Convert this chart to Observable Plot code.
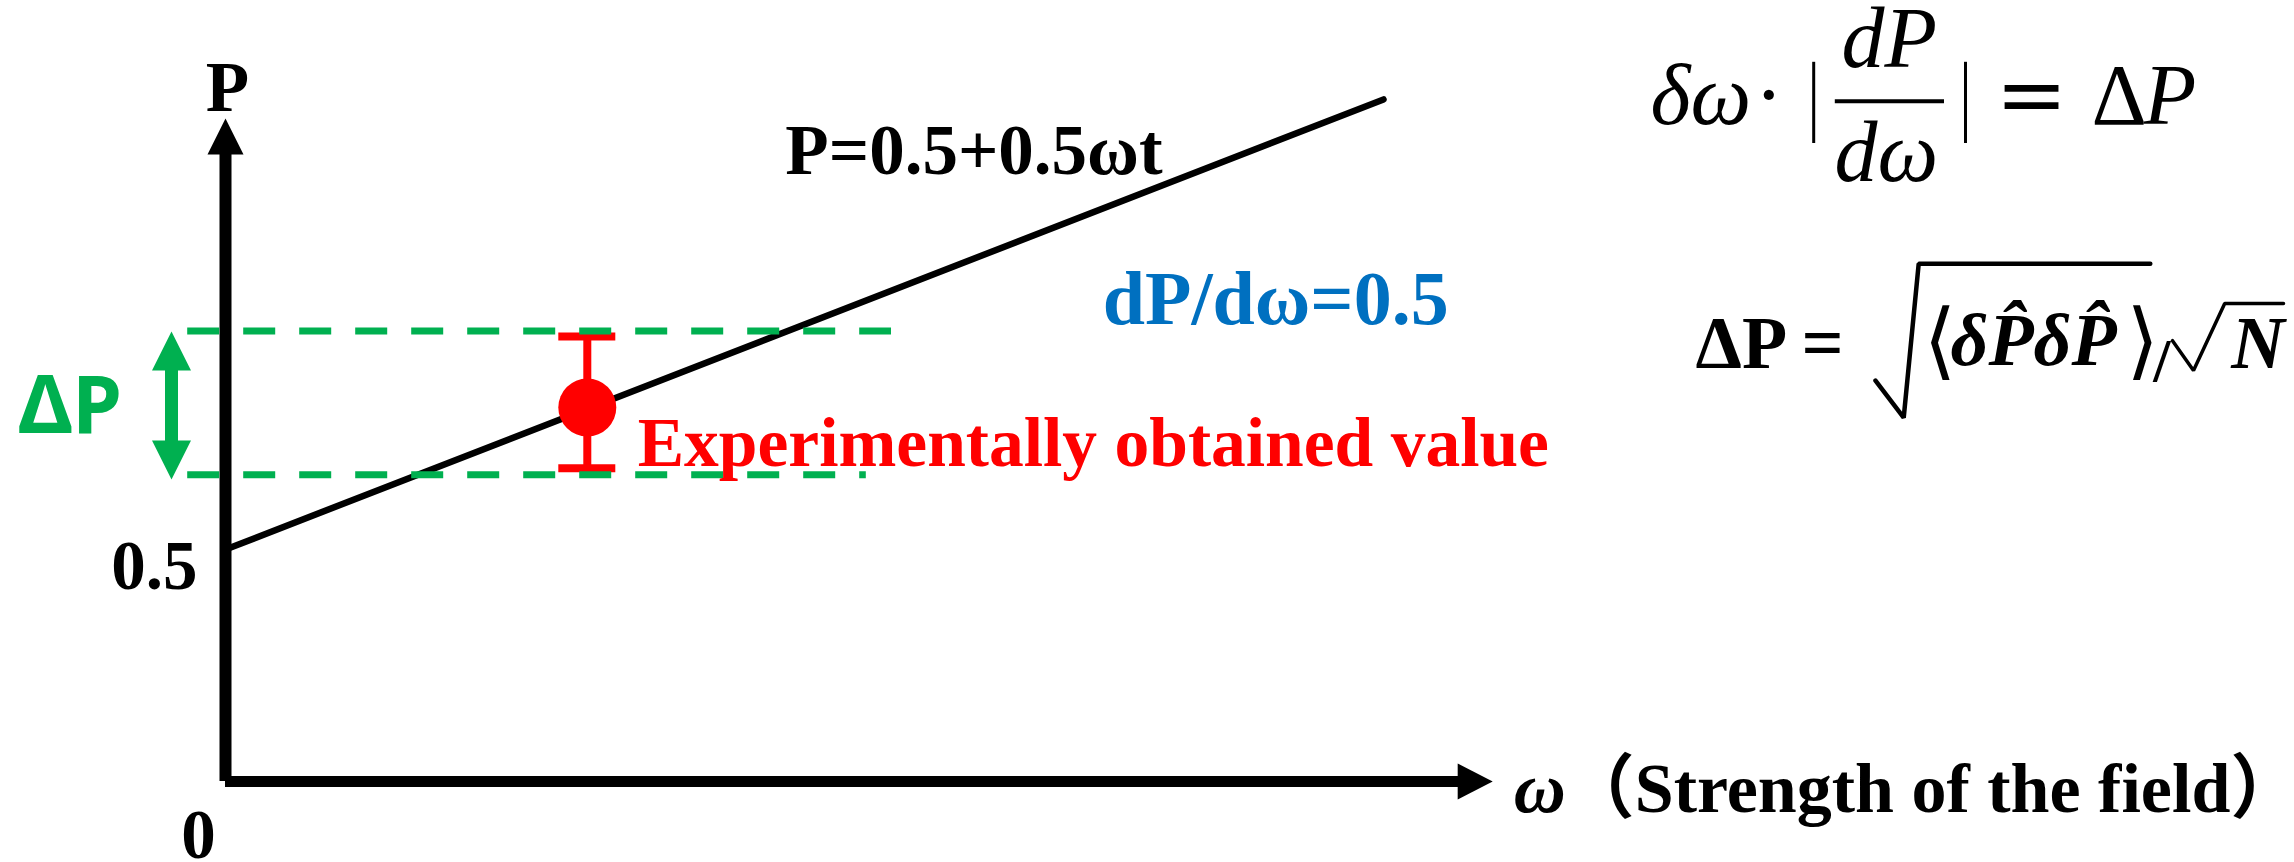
<!DOCTYPE html>
<html>
<head>
<meta charset="utf-8">
<script src="https://cdn.jsdelivr.net/npm/d3@7"></script>
<script src="https://cdn.jsdelivr.net/npm/@observablehq/plot@0.6"></script>
<style>
  html, body { margin: 0; padding: 0; background: #ffffff; }
  #chart svg { display: block; }
</style>
</head>
<body>
<div id="chart"></div>
<script>
// ---------------- data (ω, P units) ----------------
// model line P = 0.5 + 0.5ωt
const lineOmega = [0, 1.93];
const lineP = [0.5, 1.47];
// experimentally obtained value with its error bar
const obsOmega = [0.603];
const obsP = [0.806];
const obsLow = [0.675];
const obsHigh = [0.959];
// ΔP band (green dashed lines)
const bandP = [0.971, 0.661];
const bandFrom = [-0.063, -0.063];
const bandTo = [1.11, 1.068];
// ΔP double arrow
const deltaArrowOmega = [-0.09];
const deltaArrowP = [0.651, 0.970];
// axes
const axisTipOmega = [2.112];
const axisTipP = [1.429];
const yTickValues = [0.5];
const yTickLabels = ["0.5"];
const originLabel = ["0"];
const yAxisTitle = ["P"];
const xAxisSymbol = ["ω"];
const xAxisTitle = ["（Strength of the field）"];
// annotations
const noteText = ["P=0.5+0.5ωt", "dP/dω=0.5", "Experimentally obtained value", "ΔP"];
const noteOmega = [0.933, 1.462, 0.687, -0.345];
const noteP = [1.310, 0.987, 0.679, 0.752];
// formula 1 : δω · |dP/dω| = ΔP
const f1Text = ["δω", "·", "dP", "dω", "=", "Δ", "P"];
const f1Omega = [2.375, 2.572, 2.773, 2.768, 3.01, 3.11, 3.197];
const f1P = [1.418, 1.418, 1.539, 1.295, 1.418, 1.418, 1.418];
const f1BarOmega = [2.647, 2.9];
const f1BarP = [1.375, 1.55];
const f1FracOmega = [2.683, 2.865];
const f1FracP = [1.466];
// formula 2 : ΔP = sqrt(<δP̂δP̂>)/sqrt(N)
const f2Text = ["ΔP =", "⟨", "δP̂δP̂", "⟩", "/", "N"];
const f2Omega = [2.45, 2.83, 2.875, 3.168, 3.213, 3.343];
const f2P = [0.892, 0.890, 0.897, 0.890, 0.864, 0.892];
const sqrtBigOmega = [2.75, 2.797, 2.822, 3.208];
const sqrtBigP = [0.864, 0.784, 1.116, 1.116];
const sqrtSmallOmega = [3.245, 3.28, 3.332, 3.43];
const sqrtSmallP = [0.950, 0.886, 1.030, 1.030];

// ---------------- styles ----------------
const ink = "#000000", green = "#00B050", red = "#FF0000", blue = "#0070C0";
const serif = "'Liberation Serif', 'Times New Roman', 'DejaVu Serif', 'Noto Sans CJK JP', serif";
const sans = "'Noto Sans', 'Open Sans', 'DejaVu Sans', sans-serif";
const mathSans = "'DejaVu Sans', 'Noto Sans', sans-serif";

const pts = (xs, ys) => xs.map((x, i) => ({x, y: ys[i]}));
function head(dir, len, wid) {
  const w = wid / 2, h = len;
  return {draw(ctx) {
    ctx.moveTo(0, 0);
    if (dir === "up") { ctx.lineTo(-w, h); ctx.lineTo(w, h); }
    else if (dir === "down") { ctx.lineTo(-w, -h); ctx.lineTo(w, -h); }
    else { ctx.lineTo(-h, -w); ctx.lineTo(-h, w); }
    ctx.closePath();
  }};
}
const label = (t, x, y, o) => Plot.text([{t, x, y}], {x: "x", y: "y", text: "t", lineAnchor: "bottom", ...o});

const chart = Plot.plot({
  width: 2294,
  height: 862,
  margin: 0,
  x: {domain: [0, 1], range: [225, 825], axis: null},
  y: {domain: [0, 1], range: [781, 317], axis: null},
  style: {background: "#ffffff"},
  marks: [
    // axes
    Plot.ruleX([0], {x: d => d, y1: () => 0, y2: () => axisTipP[0] - 0.07, stroke: ink, strokeWidth: 12}),
    Plot.ruleY([0], {y: d => d, x1: () => 0, x2: () => axisTipOmega[0] - 0.05, stroke: ink, strokeWidth: 11}),
    Plot.dot(pts([0], axisTipP), {x: "x", y: "y", r: 10, symbol: head("up", 36, 36), fill: ink, stroke: "none"}),
    Plot.dot(pts(axisTipOmega, [0]), {x: "x", y: "y", r: 10, symbol: head("right", 35, 36), fill: ink, stroke: "none"}),
    // model line
    Plot.line(pts(lineOmega, lineP), {x: "x", y: "y", stroke: ink, strokeWidth: 6.5}),
    // error bar + point
    Plot.ruleX(obsOmega.map((w, i) => ({w, lo: obsLow[i], hi: obsHigh[i]})), {x: "w", y1: "lo", y2: "hi", stroke: red, strokeWidth: 8}),
    Plot.ruleY(obsOmega.flatMap((w, i) => [{w, p: obsLow[i]}, {w, p: obsHigh[i]}]), {y: "p", x1: d => d.w - 0.0475, x2: d => d.w + 0.0475, stroke: red, strokeWidth: 8}),
    Plot.dot(pts(obsOmega, obsP), {x: "x", y: "y", r: 29, fill: red, stroke: "none"}),
    // ΔP band
    Plot.ruleY(bandP.map((p, i) => ({p, a: bandFrom[i], b: bandTo[i]})), {y: "p", x1: "a", x2: "b", stroke: green, strokeWidth: 7, strokeDasharray: "32,24"}),
    // ΔP double arrow
    Plot.ruleX(deltaArrowOmega, {x: d => d, y1: () => deltaArrowP[0] + 0.08, y2: () => deltaArrowP[1] - 0.08, stroke: green, strokeWidth: 13}),
    Plot.dot(pts(deltaArrowOmega, [deltaArrowP[1]]), {x: "x", y: "y", r: 10, symbol: head("up", 39, 39), fill: green, stroke: "none"}),
    Plot.dot(pts(deltaArrowOmega, [deltaArrowP[0]]), {x: "x", y: "y", r: 10, symbol: head("down", 39, 39), fill: green, stroke: "none"}),
    // axis labels
    label(yAxisTitle[0], 0, axisTipP[0], {dx: 2, dy: -7, textAnchor: "middle", fontFamily: serif, fontWeight: "bold", fontSize: 71, fill: ink}),
    label(yTickLabels[0], 0, yTickValues[0], {dx: -28, dy: 39, textAnchor: "end", fontFamily: serif, fontWeight: "bold", fontSize: 69, fill: ink}),
    label(originLabel[0], 0, 0, {dx: -27, dy: 76, textAnchor: "middle", fontFamily: serif, fontWeight: "bold", fontSize: 69, fill: ink}),
    label(xAxisSymbol[0], axisTipOmega[0], 0, {dx: 21, dy: 30, textAnchor: "start", fontFamily: serif, fontStyle: "italic", fontWeight: "bold", fontSize: 72, fill: ink}),
    label(xAxisTitle[0], axisTipOmega[0], 0, {dx: 72, dy: 30, textAnchor: "start", fontFamily: serif, fontWeight: "bold", fontSize: 70, fill: ink}),
    // annotations
    label(noteText[0], noteOmega[0], noteP[0], {textAnchor: "start", fontFamily: serif, fontWeight: "bold", fontSize: 71, fill: ink}),
    label(noteText[1], noteOmega[1], noteP[1], {textAnchor: "start", fontFamily: serif, fontWeight: "bold", fontSize: 76, fill: blue}),
    label(noteText[2], noteOmega[2], noteP[2], {textAnchor: "start", fontFamily: serif, fontWeight: "bold", fontSize: 69.5, fill: red}),
    label(noteText[3], noteOmega[3], noteP[3], {textAnchor: "start", fontFamily: sans, fontWeight: "bold", fontSize: 80, fill: green}),
    // formula 1
    label(f1Text[0], f1Omega[0], f1P[0], {textAnchor: "start", fontFamily: serif, fontStyle: "italic", fontSize: 86, fill: ink}),
    label(f1Text[1], f1Omega[1], f1P[1], {textAnchor: "middle", fontFamily: serif, fontSize: 86, fill: ink}),
    label(f1Text[2], f1Omega[2], f1P[2], {textAnchor: "middle", fontFamily: serif, fontStyle: "italic", fontSize: 86, fill: ink}),
    label(f1Text[3], f1Omega[3], f1P[3], {textAnchor: "middle", fontFamily: serif, fontStyle: "italic", fontSize: 86, fill: ink}),
    label(f1Text[4], f1Omega[4], f1P[4], {textAnchor: "middle", fontFamily: "'DejaVu Serif', serif", fontSize: 86, fill: ink}),
    label(f1Text[5], f1Omega[5], f1P[5], {textAnchor: "start", fontFamily: serif, fontSize: 86, fill: ink}),
    label(f1Text[6], f1Omega[6], f1P[6], {textAnchor: "start", fontFamily: serif, fontStyle: "italic", fontSize: 86, fill: ink}),
    Plot.ruleX(f1BarOmega, {x: d => d, y1: () => f1BarP[0], y2: () => f1BarP[1], stroke: ink, strokeWidth: 3}),
    Plot.ruleY(f1FracP, {y: d => d, x1: () => f1FracOmega[0], x2: () => f1FracOmega[1], stroke: ink, strokeWidth: 4}),
    // formula 2
    label(f2Text[0], f2Omega[0], f2P[0], {textAnchor: "start", fontFamily: serif, fontWeight: "bold", fontSize: 74, fill: ink}),
    label(f2Text[1], f2Omega[1], f2P[1], {textAnchor: "start", fontFamily: mathSans, fontSize: 84, fill: ink}),
    label(f2Text[2], f2Omega[2], f2P[2], {textAnchor: "start", fontFamily: serif, fontWeight: "bold", fontStyle: "italic", fontSize: 74, fill: ink}),
    label(f2Text[3], f2Omega[3], f2P[3], {textAnchor: "start", fontFamily: mathSans, fontSize: 84, fill: ink}),
    label(f2Text[4], f2Omega[4], f2P[4], {textAnchor: "start", fontFamily: serif, fontWeight: "bold", fontSize: 62, fill: ink}),
    label(f2Text[5], f2Omega[5], f2P[5], {textAnchor: "start", fontFamily: serif, fontWeight: "bold", fontStyle: "italic", fontSize: 74, fill: ink}),
    Plot.line(pts(sqrtBigOmega, sqrtBigP), {x: "x", y: "y", stroke: ink, strokeWidth: 4.5, strokeLinejoin: "miter"}),
    Plot.line(pts(sqrtSmallOmega, sqrtSmallP), {x: "x", y: "y", stroke: ink, strokeWidth: 3.5, strokeLinejoin: "miter"})
  ]
});
document.getElementById("chart").appendChild(chart);
</script>
</body>
</html>
